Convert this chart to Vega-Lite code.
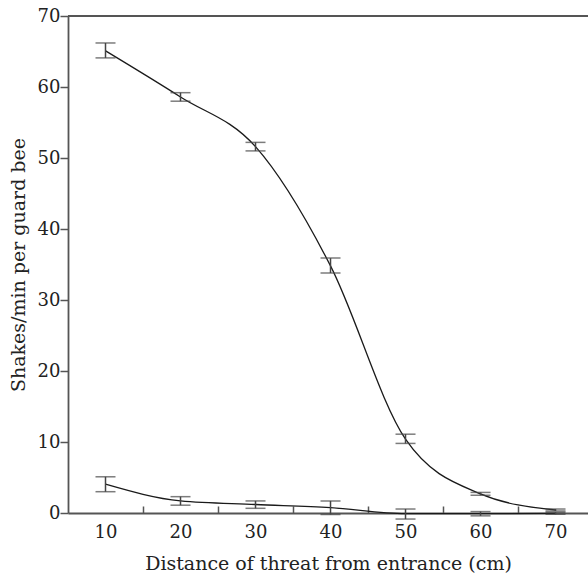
{
  "$schema": "https://vega.github.io/schema/vega-lite/v6.json",
  "width": 520,
  "height": 497,
  "autosize": "none",
  "padding": {"left": 68, "top": 16, "right": 0, "bottom": 62},
  "data": {"values": [
    {"series": "high", "distance": 10, "mean": 65.1, "lo": 64.1, "hi": 66.2},
    {"series": "high", "distance": 20, "mean": 58.6, "lo": 58.0, "hi": 59.2},
    {"series": "high", "distance": 30, "mean": 51.6, "lo": 51.0, "hi": 52.2},
    {"series": "high", "distance": 40, "mean": 34.8, "lo": 33.8, "hi": 35.9},
    {"series": "high", "distance": 50, "mean": 10.4, "lo": 9.8, "hi": 11.1},
    {"series": "high", "distance": 60, "mean": 2.7, "lo": 2.5, "hi": 2.9},
    {"series": "high", "distance": 70, "mean": 0.42, "lo": 0.28, "hi": 0.56},
    {"series": "low", "distance": 10, "mean": 4.05, "lo": 3.0, "hi": 5.1},
    {"series": "low", "distance": 20, "mean": 1.7, "lo": 1.1, "hi": 2.3},
    {"series": "low", "distance": 30, "mean": 1.2, "lo": 0.66, "hi": 1.7},
    {"series": "low", "distance": 40, "mean": 0.75, "lo": -0.2, "hi": 1.7},
    {"series": "low", "distance": 50, "mean": -0.1, "lo": -0.85, "hi": 0.56},
    {"series": "low", "distance": 60, "mean": -0.1, "lo": -0.4, "hi": 0.2},
    {"series": "low", "distance": 70, "mean": -0.04, "lo": -0.18, "hi": 0.1}
  ]},
  "layer": [
    {
      "mark": {"type": "rule", "color": "#555", "strokeWidth": 1.8},
      "encoding": {"y": {"datum": 70, "type": "quantitative", "scale": {"domain": [0, 70], "nice": false, "zero": false}}}
    },
    {
      "mark": {"type": "line", "interpolate": "monotone", "color": "#1a1a1a", "strokeWidth": 1.3},
      "encoding": {
        "x": {"field": "distance", "type": "quantitative",
              "scale": {"domain": [5, 74.33], "nice": false, "zero": false},
              "axis": {"orient": "bottom", "values": [10, 20, 30, 40, 50, 60, 70], "ticks": false, "labelPadding": 10, "title": "Distance of threat from entrance (cm)", "titlePadding": 13}},
        "y": {"field": "mean", "type": "quantitative",
              "scale": {"domain": [0, 70], "nice": false, "zero": false},
              "axis": {"values": [0, 10, 20, 30, 40, 50, 60, 70], "tickSize": 8, "labelPadding": 0, "title": "Shakes/min per guard bee", "titlePadding": 9}},
        "detail": {"field": "series"}
      }
    },
    {
      "mark": {"type": "errorbar", "ticks": {"size": 20, "thickness": 1.5, "color": "#444"}, "rule": {"color": "#444", "strokeWidth": 1.5}},
      "encoding": {
        "x": {"field": "distance", "type": "quantitative",
              "scale": {"domain": [5, 74.33], "nice": false, "zero": false},
              "axis": {"orient": "bottom", "values": [15, 25, 35, 45, 55, 65], "tickSize": -7, "labels": false, "domain": false, "title": null}},
        "y": {"field": "lo", "type": "quantitative",
              "scale": {"domain": [0, 70], "nice": false, "zero": false},
              "title": "Shakes/min per guard bee"},
        "y2": {"field": "hi"}
      }
    }
  ],
  "resolve": {"axis": {"x": "independent"}},
  "config": {
    "view": {"stroke": null},
    "font": "DejaVu Serif",
    "axis": {
      "grid": false,
      "domainColor": "#555",
      "domainWidth": 1.8,
      "tickColor": "#555",
      "tickWidth": 1.5,
      "labelFont": "DejaVu Serif",
      "labelFontSize": 18,
      "labelColor": "#222",
      "titleFont": "DejaVu Serif",
      "titleFontSize": 19,
      "titleFontWeight": "normal",
      "titleColor": "#222"
    }
  }
}
